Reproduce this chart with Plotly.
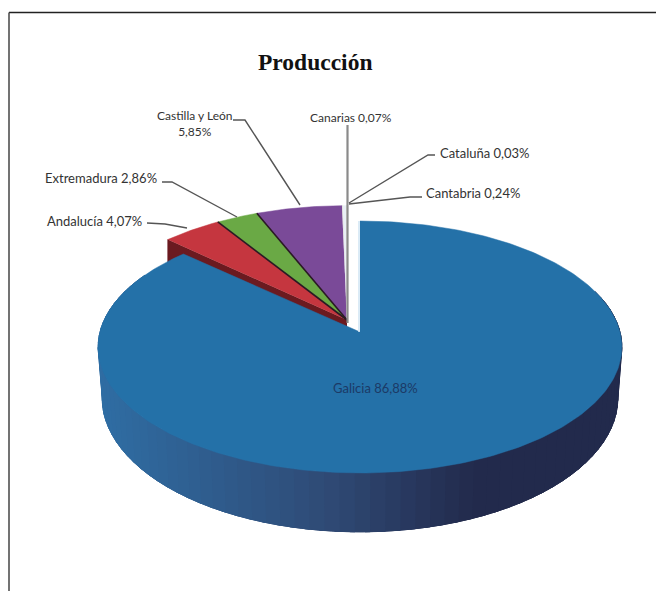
import numpy as np
import plotly.graph_objects as go

categories = ["Galicia", "Andalucía", "Extremadura", "Castilla y León", "Canarias", "Cantabria", "Cataluña"]
shares = [86.88, 4.07, 2.86, 5.85, 0.07, 0.24, 0.03]
share_labels = ["86,88%", "4,07%", "2,86%", "5,85%", "0,07%", "0,24%", "0,03%"]
colors = ["#2471a8", "#c5363f", "#6aa945", "#7a4a98", "#e4e4e4", "#e9f0f5", "#efe2d6"]

MAIN = dict(cx=360, cy=332, a=260, b=124.2, k=0.119)
BASE = dict(cx=360, cy=382, a=256, b=132, k=0.119)
EXPL = dict(cx=347, cy=320, a=264, b=128, k=0.119)

fig = go.Figure()


def pt(deg, cx, cy, a, b, k):
    th = np.radians(deg)
    u, v = np.sin(th), -np.cos(th)
    d = 1 - k * v
    return cx + a * u / d, cy + b * v / d


def poly(x, y, color, lw=0.5):
    fig.add_trace(go.Scatter(x=list(x), y=list(y), mode="lines", fill="toself",
                             fillcolor=color, line=dict(color=color, width=lw),
                             hoverinfo="skip", showlegend=False))


def seg(x, y, color, width):
    fig.add_trace(go.Scatter(x=list(x), y=list(y), mode="lines",
                             line=dict(color=color, width=width),
                             hoverinfo="skip", showlegend=False))


def mix(c1, c2, t):
    t = min(max(t, 0), 1)
    p = [int(c1[i:i + 2], 16) for i in (1, 3, 5)]
    q = [int(c2[i:i + 2], 16) for i in (1, 3, 5)]
    return "#%02x%02x%02x" % tuple(int(round(m + (n - m) * t)) for m, n in zip(p, q))


edges = np.concatenate([[0], np.cumsum(shares)]) * 3.6

# Andalucía's cut face is the only one that shows, below its lower-left edge
ex, ey = pt(edges[1], **EXPL)
poly([EXPL["cx"], ex, ex, EXPL["cx"]], [EXPL["cy"], ey, ey + 27, EXPL["cy"] + 27], "#6b1a20")

# exploded slices
for i in range(1, len(shares)):
    ang = np.linspace(edges[i], edges[i + 1], 30)
    xs, ys = pt(ang, **EXPL)
    poly(list(xs) + [EXPL["cx"]], list(ys) + [EXPL["cy"]], colors[i])
for i in (2, 3):
    ex, ey = pt(edges[i], **EXPL)
    seg([EXPL["cx"], ex], [EXPL["cy"], ey], "#2a1a24", 1.6)

# Galicia side wall, shaded in bands from left to right
g_end = edges[1]
steps = np.linspace(70, 295, 76)
for a0, a1 in zip(steps[:-1], steps[1:]):
    ang = np.linspace(a0, a1 + 4, 4)
    xs, ys = pt(ang, **MAIN)
    bx, by = pt(ang, **BASE)
    f = (xs.mean() - 98) / 524
    col = mix("#2f6da3", "#2f4a75", f / 0.42) if f < 0.42 else mix("#2f4a75", "#222a4c", (f - 0.42) / 0.28)
    poly(list(xs) + list(bx[::-1]), list(ys) + list(by[::-1]), col, 1)

# Galicia top face
ang = np.linspace(0, g_end, 300)
xs, ys = pt(ang, **MAIN)
poly(list(xs) + [MAIN["cx"]], list(ys) + [MAIN["cy"]], colors[0])
seg([MAIN["cx"] - 1, MAIN["cx"] - 1], [221, MAIN["cy"]], "#cfe4f3", 1.5)

# leader lines
leaders = {
    "Andalucía": ([147, 165, 187], [223, 224, 228], "#555555", 1.4),
    "Extremadura": ([162, 172, 237], [182, 182, 217], "#555555", 1.4),
    "Castilla y León": ([233, 245, 300], [120, 120, 205], "#555555", 1.4),
    "Canarias": ([347.5, 347.5], [125, 323], "#8a8a8a", 2.2),
    "Cantabria": ([422, 410, 349], [197, 197, 204], "#555555", 1.4),
    "Cataluña": ([435, 428, 349], [155, 155, 203], "#555555", 1.4),
}
for name in leaders:
    lx, ly, c, w = leaders[name]
    seg(lx, ly, c, w)

font = dict(family="Lato, Open Sans, sans-serif", size=13, color="#333333")
small = dict(family="Lato, Open Sans, sans-serif", size=12, color="#333333")
lab = dict(zip(categories, share_labels))


def text(x, y, s, anchor="center", f=font):
    fig.add_annotation(x=x, y=y, text=s, showarrow=False, xanchor=anchor, yanchor="middle",
                       font=f, align="center")


text(315, 62, "<b>Producción</b>", f=dict(family="Liberation Serif", size=23.5, color="#111111"))
text(144, 221, f"Andalucía {lab['Andalucía']}", "right")
text(159, 178, f"Extremadura {lab['Extremadura']}", "right")
text(195, 123, f"Castilla y León<br>{lab['Castilla y León']}", f=small)
text(351, 117, f"Canarias {lab['Canarias']}", f=small)
text(424, 193, f"Cantabria {lab['Cantabria']}", "left")
text(438, 153, f"Cataluña {lab['Cataluña']}", "left")
text(375, 388, f"Galicia {lab['Galicia']}", f=dict(family=font["family"], size=13, color="#1c3a66"))

fig.update_layout(
    width=656, height=591, margin=dict(l=0, r=0, t=0, b=0),
    paper_bgcolor="white", plot_bgcolor="white", showlegend=False,
    xaxis=dict(range=[0, 656], visible=False, fixedrange=True),
    yaxis=dict(range=[591, 0], visible=False, fixedrange=True),
    shapes=[dict(type="line", xref="x", yref="y", x0=9, y0=12.5, x1=656, y1=12.5, line=dict(color="#222222", width=1.5)),
            dict(type="line", xref="x", yref="y", x0=9, y0=12.5, x1=9, y1=591, line=dict(color="#444444", width=1.5))],
)
fig.write_html("out.html", config={"displayModeBar": False},
               post_script="document.body.style.margin='0';document.body.style.overflow='hidden';")
